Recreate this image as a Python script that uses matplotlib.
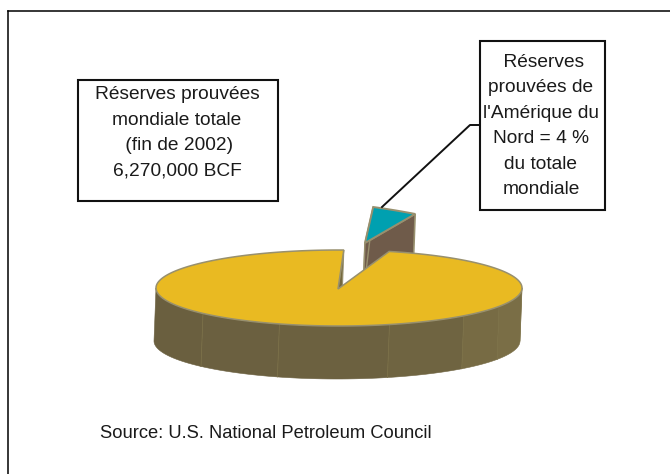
import numpy as np
import matplotlib
matplotlib.use("Agg")
import matplotlib.pyplot as plt
from matplotlib.patches import Polygon, Rectangle

plt.rcParams['font.family'] = ['Liberation Sans', 'DejaVu Sans']

# shares of world proved reserves, in percent
shares = [4, 96]
share_colors = ['#00a0b0', '#e9ba22']
start_angle = 88.5

world_text = "Réserves prouvées\nmondiale totale\n (fin de 2002)\n6,270,000 BCF"
na_text = " Réserves\nprouvées de\nl'Amérique du\nNord = 4 %\ndu totale\nmondiale"
source_text = "Source: U.S. National Petroleum Council"

# angles where the shading of the rim changes
rim_breaks = [180, 222, 251, 286, 313, 331, 360]
rim_colors = ['#6a5f3f', '#6b6040', '#6c6140', '#6f6441', '#776b44', '#7a6e46']

edge = '#98906e'
cx, cy, rx, ry = 339, 288, 183, 38
depth = np.array([-2, 53])

fig = plt.figure(figsize=(6.7, 4.74), dpi=100)
ax = fig.add_axes([0, 0, 1, 1])
ax.set_xlim(0, 670)
ax.set_ylim(474, 0)
ax.axis('off')


def rim_point(angle):
    a = np.radians(angle)
    return np.array([cx + rx*np.cos(a), cy - ry*np.sin(a)])


# wedge angles come from the shares, going clockwise
small_sweep = 360*shares[0]/sum(shares)
a1 = start_angle
a2 = start_angle - small_sweep

# outer frame, open on the right and at the bottom
ax.plot([7.5, 7.5], [474, 10.5], color='black', lw=1.1, zorder=1)
ax.plot([7.5, 670], [10.5, 10.5], color='black', lw=1.1, zorder=1)

# exploded slice: skewed axes because of the perspective
apex = np.array([365, 243])
u = np.array([170, 22.5])
v = np.array([3.75, -36.6])
t = np.linspace(np.radians(a2), np.radians(a1), 20)
arc = np.array([apex + u*np.cos(x) + v*np.sin(x) for x in t])
p2 = arc[0]

ax.add_patch(Polygon([apex, p2, p2 + depth, apex + depth], closed=True,
                     facecolor='#6f5b4a', edgecolor=edge, lw=1.2, zorder=2))
ax.add_patch(Polygon([apex, arc[-1], arc[-1] + [-3, 30], apex + depth], closed=True,
                     facecolor='#6f5b4a', edgecolor=edge, lw=1.0, zorder=2))
ax.add_patch(Polygon(np.vstack([[apex], arc]), closed=True,
                     facecolor=share_colors[0], edgecolor=edge, lw=1.4, zorder=3))

# rim of the main slice
for i in range(len(rim_colors)):
    th = np.linspace(rim_breaks[i], rim_breaks[i+1], 40)
    top = np.array([rim_point(x) for x in th])
    ax.add_patch(Polygon(np.vstack([top, top[::-1] + depth]), closed=True,
                         facecolor=rim_colors[i], edgecolor=rim_colors[i], lw=0.4, zorder=4))
    ax.plot(*np.array([top[-1], top[-1] + depth]).T, color='#7d7248', lw=0.5, zorder=4.1)

# wall of the cut, seen through the notch
main_apex = np.array([cx - 1, cy + 1])
cut = rim_point(a1)
ax.add_patch(Polygon([main_apex, cut, cut + depth, main_apex + depth], closed=True,
                     facecolor='#75693f', edgecolor=edge, lw=0.8, zorder=2.5))

# top of the main slice
th = np.linspace(a1 - 360, a2, 300)
top = np.array([rim_point(x) for x in th])
ax.add_patch(Polygon(np.vstack([[main_apex], top]), closed=True,
                     facecolor=share_colors[1], edgecolor=edge, lw=1.1, zorder=5))

# label boxes and leader line
ax.add_patch(Rectangle((78, 80), 200, 121, facecolor='white', edgecolor='#111111',
                       lw=1.5, zorder=6))
ax.add_patch(Rectangle((480, 41), 125, 169, facecolor='white', edgecolor='#111111',
                       lw=1.5, zorder=6))
ax.plot([480, 470, 382], [125, 125, 207], color='#111111', lw=1.4, zorder=6)

ax.text(177, 133, world_text, ha='center', va='center', fontsize=13.8,
        linespacing=1.66, color='#1a1a1a', zorder=7)
ax.text(541, 126, na_text, ha='center', va='center', fontsize=13.8,
        linespacing=1.66, color='#1a1a1a', zorder=7)
ax.text(100, 433, source_text, ha='left', va='center', fontsize=13.2,
        color='#1a1a1a', zorder=7)

fig.savefig('out.png', dpi=100)
